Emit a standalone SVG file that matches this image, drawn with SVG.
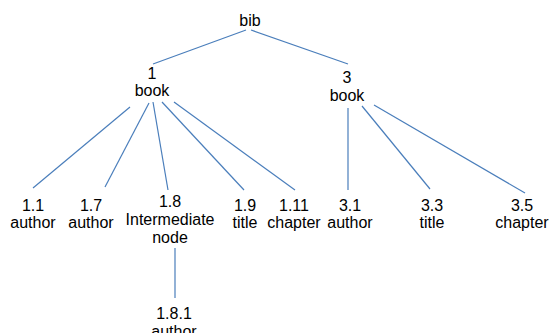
<svg xmlns="http://www.w3.org/2000/svg" width="551" height="333" viewBox="0 0 551 333">
<style>
text{font-family:"Liberation Sans",Arial,sans-serif;font-size:16px;fill:#000;text-anchor:middle}
.e line{stroke:#4a7ebb;stroke-width:1.2}
</style>
<rect width="551" height="333" fill="#fff"/>
<g class="e" id="connectors">
<line x1="246" y1="30" x2="153" y2="64"/>
<line x1="251" y1="30" x2="348" y2="64"/>
<line x1="130" y1="107" x2="33" y2="188"/>
<line x1="149" y1="103" x2="105" y2="187"/>
<line x1="153" y1="102" x2="168" y2="190"/>
<line x1="162" y1="102" x2="244" y2="190"/>
<line x1="174" y1="102" x2="295" y2="190"/>
<line x1="348" y1="108" x2="348" y2="190"/>
<line x1="362" y1="106" x2="430" y2="189"/>
<line x1="374" y1="105" x2="525" y2="193"/>
<line x1="175" y1="248" x2="175" y2="298"/>
</g>
<g id="bib"><text x="250" y="26">bib</text></g>
<g id="n1"><text x="152" y="79">1</text><text x="152" y="96">book</text></g>
<g id="n3"><text x="347" y="83">3</text><text x="347" y="101">book</text></g>
<g id="n1_1"><text x="33" y="211">1.1</text><text x="33" y="228">author</text></g>
<g id="n1_7"><text x="91" y="211">1.7</text><text x="91" y="228">author</text></g>
<g id="n1_8"><text x="170" y="207">1.8</text><text x="170" y="225">Intermediate</text><text x="170" y="243">node</text></g>
<g id="n1_9"><text x="245" y="211">1.9</text><text x="245" y="228">title</text></g>
<g id="n1_11"><text x="294" y="211">1.11</text><text x="294" y="228">chapter</text></g>
<g id="n3_1"><text x="350" y="211">3.1</text><text x="350" y="228">author</text></g>
<g id="n3_3"><text x="432" y="211">3.3</text><text x="432" y="228">title</text></g>
<g id="n3_5"><text x="522" y="211">3.5</text><text x="522" y="228">chapter</text></g>
<g id="n1_8_1"><text x="174" y="319">1.8.1</text><text x="174" y="337">author</text></g>
</svg>
